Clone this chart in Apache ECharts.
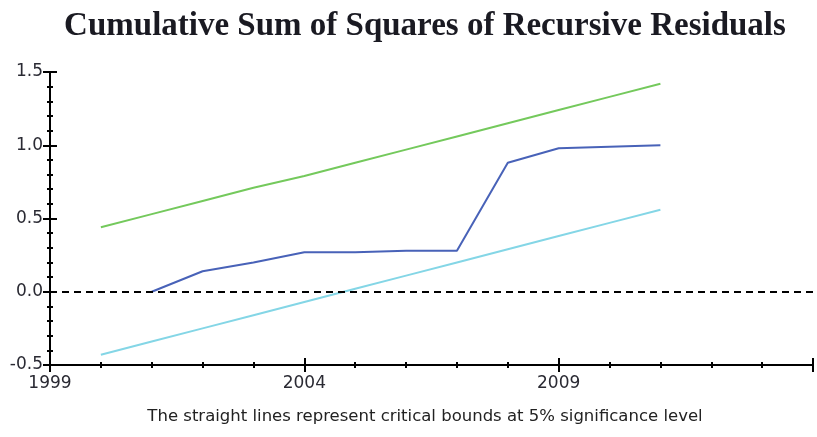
<!DOCTYPE html>
<html><head><meta charset="utf-8">
<script src="https://cdn.jsdelivr.net/npm/echarts@6/dist/echarts.min.js"></script>
<style>html,body{margin:0;padding:0;background:#fff}#c{width:817px;height:437px}</style>
</head><body><div id="c"></div>
<script>
// ---- data ----
const boundYears = [2000, 2001, 2002, 2003, 2004, 2005, 2006, 2007, 2008, 2009, 2010, 2011];
const upperBound = [0.44, 0.53, 0.62, 0.71, 0.79, 0.88, 0.97, 1.06, 1.15, 1.24, 1.33, 1.42];
const lowerBound = [-0.43, -0.34, -0.25, -0.16, -0.07, 0.02, 0.11, 0.20, 0.29, 0.38, 0.47, 0.56];
const cusumYears = [2001, 2002, 2003, 2004, 2005, 2006, 2007, 2008, 2009, 2010, 2011];
const cusumsq = [0.00, 0.14, 0.20, 0.27, 0.27, 0.28, 0.28, 0.88, 0.98, 0.99, 1.00];
const xTickLabels = [1999, 2004, 2009];
const titleText = 'Cumulative Sum of Squares of Recursive Residuals';
const noteText = 'The straight lines represent critical bounds at 5% significance level';

const pairs = (xs, ys) => xs.map((x, i) => [x, ys[i]]);

const labelFont = 'DejaVu Sans';
const tickStyle = { color: '#000', width: 2 };

function xAx(inside) {
  return {
    type: 'value', min: 1999, max: 2014, interval: 5, position: 'bottom',
    axisLine: { show: !inside, onZero: false, lineStyle: { color: '#000', width: 2 } },
    axisTick: { show: true, inside: inside, length: 7, lineStyle: tickStyle },
    minorTick: { show: true, splitNumber: 5, length: 3, lineStyle: tickStyle },
    axisLabel: {
      show: !inside, margin: 10, fontSize: 17, fontFamily: labelFont, color: '#2a2a33',
      formatter: v => xTickLabels.indexOf(v) >= 0 ? String(v) : ''
    },
    splitLine: { show: false }, minorSplitLine: { show: false }
  };
}
function yAx(inside) {
  return {
    type: 'value', min: -0.5, max: 1.5, interval: 0.5, position: 'left',
    axisLine: { show: !inside, onZero: false, lineStyle: { color: '#000', width: 2 } },
    axisTick: { show: true, inside: inside, length: 7, lineStyle: tickStyle },
    minorTick: { show: true, splitNumber: 5, length: 3, lineStyle: tickStyle },
    axisLabel: {
      show: !inside, margin: 7, fontSize: 17, fontFamily: labelFont, color: '#2a2a33',
      formatter: v => v.toFixed(1)
    },
    splitLine: { show: false }, minorSplitLine: { show: false }
  };
}

const chart = echarts.init(document.getElementById('c'), null, { renderer: 'canvas' });
chart.setOption({
  animation: false,
  backgroundColor: '#fff',
  grid: { left: 50, right: 4, top: 72, bottom: 72, containLabel: false, outerBoundsMode: 'none' },
  xAxis: [xAx(false), xAx(true)],
  yAxis: [yAx(false), yAx(true)],
  graphic: [
    { type: 'text', x: 425, y: 26, silent: true,
      style: { text: titleText, font: 'bold 33px "Liberation Serif"', fill: '#1a1a22', align: 'center', verticalAlign: 'middle' } },
    { type: 'text', x: 425, y: 417, silent: true,
      style: { text: noteText, font: '16.5px "DejaVu Sans"', fill: '#222', align: 'center', verticalAlign: 'middle' } }
  ],
  series: [
    { type: 'line', name: 'Upper bound', data: pairs(boundYears, upperBound), showSymbol: false,
      lineStyle: { color: '#74c95c', width: 2 }, itemStyle: { color: '#74c95c' } },
    { type: 'line', name: 'Lower bound', data: pairs(boundYears, lowerBound), showSymbol: false,
      lineStyle: { color: '#84d6e6', width: 2 }, itemStyle: { color: '#84d6e6' } },
    { type: 'line', name: 'CUSUM of squares', data: pairs(cusumYears, cusumsq), showSymbol: false,
      lineStyle: { color: '#4862b8', width: 2 }, itemStyle: { color: '#4862b8' },
      markLine: { silent: true, symbol: 'none', label: { show: false },
        lineStyle: { color: '#000', type: [7, 5], width: 2 },
        data: [{ yAxis: 0 }] } }
  ]
});
</script>
</body></html>
